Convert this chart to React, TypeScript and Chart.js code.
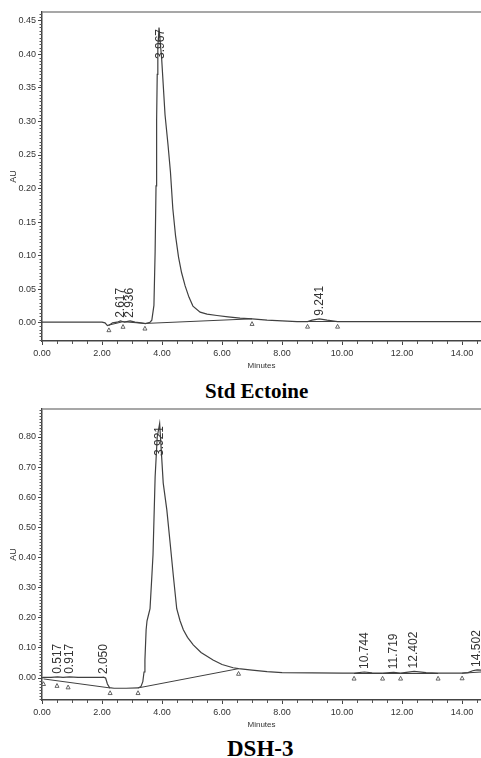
import React, { useEffect, useRef } from 'react';
import { Chart, registerables } from 'chart.js';

Chart.register(...registerables);
Chart.defaults.font.family = '"Liberation Sans", Arial, sans-serif';

// ---------- Std Ectoine ----------
const stdTime = [0.00, 1.00, 2.00, 2.10, 2.18, 2.25, 2.35, 2.50, 2.617, 2.75, 2.936, 3.10, 3.30, 3.45, 3.60, 3.66, 3.73, 3.77, 3.80, 3.82, 3.84, 3.86, 3.90, 3.99, 4.10, 4.20, 4.28, 4.36, 4.45, 4.55, 4.65, 4.77, 4.90, 5.03, 5.27, 5.50, 5.83, 6.20, 6.60, 7.00, 7.50, 8.00, 8.50, 8.85, 9.00, 9.241, 9.50, 9.85, 10.50, 11.50, 12.50, 13.50, 14.63];
const stdAU = [0.001, 0.001, 0.001, 0.000, -0.004, -0.003, 0.000, 0.001, 0.003, 0.001, 0.003, 0.001, 0.000, -0.001, 0.001, 0.004, 0.026, 0.106, 0.204, 0.303, 0.370, 0.410, 0.440, 0.392, 0.310, 0.265, 0.225, 0.170, 0.130, 0.098, 0.075, 0.055, 0.038, 0.025, 0.016, 0.013, 0.011, 0.009, 0.007, 0.006, 0.004, 0.003, 0.002, 0.002, 0.004, 0.006, 0.004, 0.002, 0.002, 0.002, 0.002, 0.002, 0.002];
const stdBaseStart = [2.23, 2.70, 3.43, 8.85];
const stdBaseEnd = [2.70, 3.43, 7.00, 9.85];
const stdMarks = [2.23, 2.70, 3.43, 7.00, 8.85, 9.85];
const stdPeaks = [2.617, 2.936, 3.967, 9.241];
const stdYTicks = { min: -0.027, max: 0.463, step: 0.05, minor: 0.005 };

// ---------- DSH-3 ----------
const dshTime = [0.00, 0.05, 0.30, 0.517, 0.70, 0.917, 1.20, 1.60, 2.00, 2.05, 2.12, 2.18, 2.25, 2.40, 2.80, 3.20, 3.30, 3.36, 3.40, 3.43, 3.47, 3.50, 3.55, 3.60, 3.66, 3.70, 3.77, 3.84, 3.921, 3.96, 4.04, 4.16, 4.27, 4.38, 4.49, 4.60, 4.71, 4.85, 5.04, 5.30, 5.70, 6.00, 6.37, 6.55, 7.00, 7.50, 8.00, 9.00, 10.00, 10.40, 10.744, 11.00, 11.35, 11.719, 11.95, 12.402, 12.80, 13.20, 14.00, 14.20, 14.35, 14.502, 14.63];
const dshAU = [0.000, 0.002, 0.002, 0.004, 0.002, 0.004, 0.002, 0.002, 0.002, 0.003, 0.000, -0.020, -0.032, -0.034, -0.034, -0.033, -0.028, -0.012, 0.020, 0.060, 0.160, 0.190, 0.210, 0.230, 0.336, 0.410, 0.667, 0.800, 0.845, 0.780, 0.647, 0.558, 0.448, 0.336, 0.230, 0.190, 0.160, 0.135, 0.110, 0.085, 0.060, 0.045, 0.034, 0.031, 0.026, 0.021, 0.018, 0.017, 0.016, 0.016, 0.020, 0.017, 0.016, 0.019, 0.016, 0.022, 0.018, 0.016, 0.016, 0.018, 0.024, 0.027, 0.026];
const dshBaseStart = [0.05, 3.20, 10.40, 11.35, 11.95, 14.00];
const dshBaseEnd = [2.27, 6.55, 11.35, 11.95, 13.20, 14.63];
const dshBaseStartAU = [-0.003, -0.033, 0.015, 0.015, 0.015, 0.016];
const dshBaseEndAU = [-0.033, 0.031, 0.015, 0.015, 0.015, 0.020];
const dshMarks = [0.05, 0.50, 0.87, 2.27, 3.20, 6.55, 10.40, 11.35, 11.95, 13.20, 14.00];
const dshPeaks = [0.517, 0.917, 2.050, 3.921, 10.744, 11.719, 12.402, 14.502];
const dshYTicks = { min: -0.073, max: 0.893, step: 0.1, minor: 0.01 };

const xTicks = { min: 0, max: 14.63, step: 2, minor: 0.5 };

const LINE = '#404040';
const TEXT = '#333333';

function interp(xs: number[], ys: number[], t: number): number {
  if (t <= xs[0]) return ys[0];
  for (let i = 1; i < xs.length; i++) {
    if (t <= xs[i]) {
      const f = (t - xs[i - 1]) / (xs[i] - xs[i - 1]);
      return ys[i - 1] + f * (ys[i] - ys[i - 1]);
    }
  }
  return ys[ys.length - 1];
}

type Seg = { s: number; e: number; sv: number; ev: number };

const decorPlugin = {
  id: 'decor',
  afterDatasetsDraw(chart: any, _args: any, o: any) {
    const { ctx, chartArea: a, scales } = chart;
    const x = scales.x;
    const y = scales.y;
    ctx.save();
    // top frame line
    ctx.strokeStyle = '#8a8a8a';
    ctx.lineWidth = 1.6;
    ctx.beginPath();
    ctx.moveTo(a.left, a.top);
    ctx.lineTo(a.right, a.top);
    ctx.stroke();
    // minor ticks
    ctx.strokeStyle = '#555';
    ctx.lineWidth = 1;
    const ym = o.yMinor;
    const ymaj = o.yMajor;
    for (let k = Math.ceil(y.min / ym); k * ym <= y.max; k++) {
      const v = k * ym;
      if (Math.abs(v / ymaj - Math.round(v / ymaj)) < 1e-6) continue;
      const py = Math.round(y.getPixelForValue(v)) + 0.5;
      ctx.beginPath();
      ctx.moveTo(a.left - 2.5, py);
      ctx.lineTo(a.left, py);
      ctx.stroke();
    }
    const xm = o.xMinor;
    const xmaj = o.xMajor;
    for (let k = Math.ceil(x.min / xm); k * xm <= x.max; k++) {
      const v = k * xm;
      if (Math.abs(v / xmaj - Math.round(v / xmaj)) < 1e-6) continue;
      const px = Math.round(x.getPixelForValue(v)) + 0.5;
      ctx.beginPath();
      ctx.moveTo(px, a.bottom);
      ctx.lineTo(px, a.bottom + 3);
      ctx.stroke();
    }
    // integration markers (open triangles)
    const segs: Seg[] = o.segs;
    ctx.strokeStyle = '#555';
    ctx.fillStyle = '#fff';
    ctx.lineWidth = 0.9;
    o.marks.forEach((t: number) => {
      let v = interp(o.times, o.values, t);
      for (const s of segs) {
        if (t >= s.s - 1e-9 && t <= s.e + 1e-9) {
          v = s.sv + ((t - s.s) / (s.e - s.s)) * (s.ev - s.sv);
          break;
        }
      }
      const px = x.getPixelForValue(t);
      const py = y.getPixelForValue(v) + 5;
      ctx.beginPath();
      ctx.moveTo(px, py - 2.2);
      ctx.lineTo(px + 2, py + 1.6);
      ctx.lineTo(px - 2, py + 1.6);
      ctx.closePath();
      ctx.fill();
      ctx.stroke();
    });
    // peak labels
    ctx.fillStyle = TEXT;
    ctx.font = '12px "Liberation Sans", Arial, sans-serif';
    ctx.textAlign = 'left';
    ctx.textBaseline = 'middle';
    o.peaks.forEach((t: number) => {
      const text = t.toFixed(3);
      const v = interp(o.times, o.values, t);
      const px = x.getPixelForValue(t);
      let py = y.getPixelForValue(v) - 3;
      const w = ctx.measureText(text).width;
      if (py - w < a.top + 17) py = a.top + 17 + w;
      ctx.save();
      ctx.translate(px, py);
      ctx.rotate(-Math.PI / 2);
      ctx.fillText(text, 0, 0);
      ctx.restore();
    });
    ctx.restore();
  },
};

type PanelProps = {
  top: number;
  height: number;
  padTop: number;
  times: number[];
  values: number[];
  segs: Seg[];
  marks: number[];
  peaks: number[];
  yt: { min: number; max: number; step: number; minor: number };
};

function Panel(p: PanelProps) {
  const ref = useRef<HTMLCanvasElement>(null);
  useEffect(() => {
    if (!ref.current) return;
    const signal = p.times.map((t, i) => ({ x: t, y: p.values[i] }));
    const base: any[] = [];
    p.segs.forEach((s) => {
      base.push({ x: s.s, y: s.sv });
      base.push({ x: s.e, y: s.ev });
      base.push({ x: s.e + 0.0001, y: null });
    });
    const chart = new Chart(ref.current, {
      type: 'line',
      data: {
        datasets: [
          { data: signal, borderColor: LINE, borderWidth: 1.2, pointRadius: 0, tension: 0 },
          { data: base, borderColor: LINE, borderWidth: 1, pointRadius: 0, tension: 0, spanGaps: false },
        ],
      },
      plugins: [decorPlugin],
      options: {
        animation: false,
        responsive: false,
        events: [],
        layout: { padding: { top: p.padTop, right: 0, left: 0, bottom: 0 } },
        plugins: {
          legend: { display: false },
          tooltip: { enabled: false },
          decor: {
            times: p.times,
            values: p.values,
            segs: p.segs,
            marks: p.marks,
            peaks: p.peaks,
            yMinor: p.yt.minor,
            yMajor: p.yt.step,
            xMinor: xTicks.minor,
            xMajor: xTicks.step,
          },
        } as any,
        scales: {
          x: {
            type: 'linear',
            min: xTicks.min,
            max: xTicks.max,
            afterFit: (s: any) => { s.height = 34; },
            border: { display: true, color: '#444', width: 1.5 },
            grid: { drawOnChartArea: false, drawTicks: true, tickLength: 4, tickColor: '#444' },
            ticks: {
              stepSize: xTicks.step,
              includeBounds: false,
              autoSkip: false,
              maxRotation: 0,
              padding: 3,
              color: TEXT,
              font: { size: 9 },
              callback: (v: any) => Number(v).toFixed(2),
            },
            title: { display: true, text: 'Minutes', color: TEXT, font: { size: 8 }, padding: { top: 0, bottom: 4 } },
          },
          y: {
            type: 'linear',
            min: p.yt.min,
            max: p.yt.max,
            afterFit: (s: any) => { s.width = 42; },
            border: { display: true, color: '#444', width: 1.5 },
            grid: { drawOnChartArea: false, drawTicks: true, tickLength: 4, tickColor: '#444' },
            ticks: {
              stepSize: p.yt.step,
              includeBounds: false,
              autoSkip: false,
              padding: 2,
              color: TEXT,
              font: { size: 9 },
              callback: (v: any) => Number(v).toFixed(2),
            },
            title: { display: true, text: 'AU', color: TEXT, font: { size: 9 }, padding: { top: 8, bottom: 0 } },
          },
        },
      } as any,
    });
    return () => chart.destroy();
  }, []);
  return (
    <canvas
      ref={ref}
      width={481}
      height={p.height}
      style={{ position: 'absolute', left: 0, top: p.top, width: 481, height: p.height }}
    />
  );
}

const titleStyle: React.CSSProperties = {
  position: 'absolute',
  fontFamily: '"Liberation Serif", "Times New Roman", serif',
  fontWeight: 'bold',
  lineHeight: '22px',
  color: '#000',
  whiteSpace: 'pre',
};

export default function App() {
  const stdSegs: Seg[] = stdBaseStart.map((s, i) => ({
    s,
    e: stdBaseEnd[i],
    sv: interp(stdTime, stdAU, s),
    ev: interp(stdTime, stdAU, stdBaseEnd[i]),
  }));
  const dshSegs: Seg[] = dshBaseStart.map((s, i) => ({
    s,
    e: dshBaseEnd[i],
    sv: dshBaseStartAU[i],
    ev: dshBaseEndAU[i],
  }));
  return (
    <div style={{ position: 'absolute', left: 0, top: 0, width: 481, height: 758, background: '#fff', overflow: 'hidden' }}>
      <Panel top={0} height={375} padTop={12} times={stdTime} values={stdAU} segs={stdSegs} marks={stdMarks} peaks={stdPeaks} yt={stdYTicks} />
      <div style={{ ...titleStyle, fontSize: 21, left: 205, top: 380 }}>Std Ectoine</div>
      <Panel top={400} height={334} padTop={9} times={dshTime} values={dshAU} segs={dshSegs} marks={dshMarks} peaks={dshPeaks} yt={dshYTicks} />
      <div style={{ ...titleStyle, fontSize: 23, left: 227, top: 738 }}>DSH-3</div>
    </div>
  );
}
